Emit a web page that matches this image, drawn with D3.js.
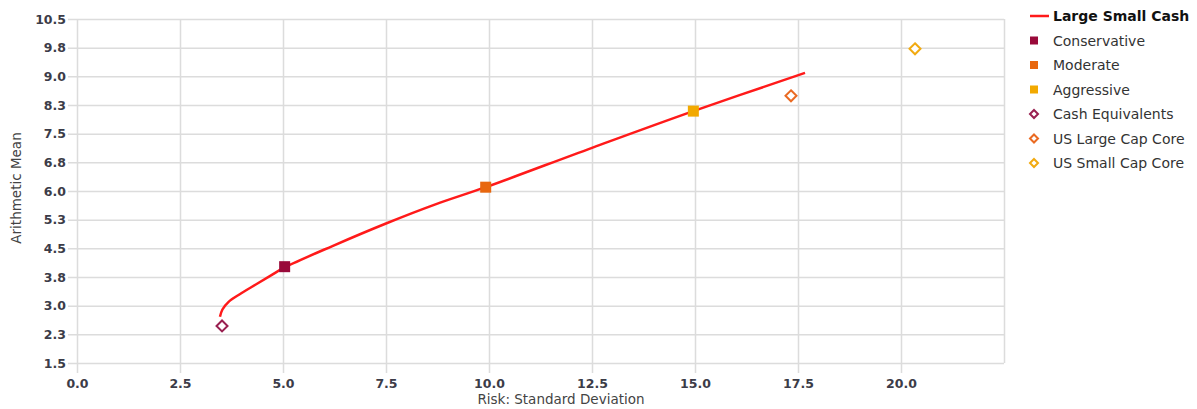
<!DOCTYPE html>
<html>
<head>
<meta charset="utf-8">
<script src="https://cdn.jsdelivr.net/npm/d3@7"></script>
<style>
  html, body { margin: 0; padding: 0; background: #fff; }
  svg { display: block; font-family: "DejaVu Sans", Verdana, sans-serif; }
</style>
</head>
<body>
<svg id="chart" width="1197" height="409"></svg>
<script>
// Efficient frontier (Large / Small / Cash mix)
const frontierRisk   = [3.47, 3.53, 3.68, 3.95, 4.35, 4.72, 5.04, 6.2, 7.5, 8.7, 9.92, 12.5, 14.96, 17.67];
const frontierReturn = [2.71, 2.90, 3.10, 3.30, 3.56, 3.80, 4.00, 4.56, 5.15, 5.65, 6.10, 7.13, 8.09, 9.09];

// Portfolios and asset classes
const pointNames  = ["Conservative", "Moderate", "Aggressive", "Cash Equivalents", "US Large Cap Core", "US Small Cap Core"];
const pointRisk   = [5.04, 9.92, 14.96, 3.52, 17.33, 20.34];
const pointReturn = [4.02, 6.10, 8.09, 2.47, 8.49, 9.72];
const pointShape  = ["square", "square", "square", "diamond", "diamond", "diamond"];
const pointColor  = ["#990a3a", "#e8670e", "#f2a900", "#992050", "#ea6a22", "#f2aa10"];

const xTicks = [0, 2.5, 5, 7.5, 10, 12.5, 15, 17.5, 20];
const xGrid  = [0, 2.5, 5, 7.5, 10, 12.5, 15, 17.5, 20, 22.5];
const yTicks = [1.5, 2.25, 3.0, 3.75, 4.5, 5.25, 6.0, 6.75, 7.5, 8.25, 9.0, 9.75, 10.5];

const seriesName = "Large Small Cash";
const lineColor = "#ff1a1a";

const svg = d3.select("#chart");
const m = { left: 77, right: 1004, top: 19, bottom: 363 };

const x = d3.scaleLinear().domain([0, 22.5]).range([m.left, m.right]);
const y = d3.scaleLinear().domain([1.5, 10.5]).range([m.bottom, m.top]);

const gridColor = "#dcdcdc";
const textColor = "#3c3c48";

// Horizontal grid + y axis
const yAxis = d3.axisLeft(y).tickValues(yTicks)
  .tickSize(9).tickPadding(3)
  .tickFormat(d => (Math.round(d * 10 + 1e-6) / 10).toFixed(1));
const gy = svg.append("g").attr("transform", `translate(${m.left},0)`).call(yAxis);
gy.select(".domain").remove();
gy.selectAll(".tick line").attr("x2", m.right - m.left).attr("x1", -9)
  .attr("stroke", gridColor).attr("stroke-width", 1.5);
gy.selectAll(".tick text").attr("x", -11)
  .attr("fill", textColor).attr("font-size", 12.5).attr("font-weight", "bold")
  .style("font-family", "'DejaVu Sans', Verdana, sans-serif");

// Vertical grid + x axis
const xAxis = d3.axisBottom(x).tickValues(xGrid)
  .tickSize(10).tickPadding(6)
  .tickFormat(d => xTicks.includes(d) ? d.toFixed(1) : "");
const gx = svg.append("g").attr("transform", `translate(0,${m.bottom})`).call(xAxis);
gx.select(".domain").remove();
gx.selectAll(".tick line")
  .attr("y1", d => -(m.bottom - m.top))
  .attr("y2", d => xTicks.includes(d) ? 10 : 0)
  .attr("stroke", gridColor).attr("stroke-width", 1.5);
gx.selectAll(".tick text")
  .attr("fill", textColor).attr("font-size", 12.5).attr("font-weight", "bold")
  .style("font-family", "'DejaVu Sans', Verdana, sans-serif");

// Axis titles
svg.append("text")
  .attr("x", 561).attr("y", 404)
  .attr("text-anchor", "middle").attr("font-size", 13.5).attr("fill", "#444")
  .text("Risk: Standard Deviation");
svg.append("text")
  .attr("transform", `translate(21,188) rotate(-90)`)
  .attr("text-anchor", "middle").attr("font-size", 13.5).attr("fill", "#444")
  .text("Arithmetic Mean");

// Frontier line
const frontier = frontierRisk.map((r, i) => [r, frontierReturn[i]]);
svg.append("path")
  .datum(frontier)
  .attr("fill", "none").attr("stroke", lineColor).attr("stroke-width", 2.5)
  .attr("d", d3.line().x(d => x(d[0])).y(d => y(d[1])).curve(d3.curveCatmullRom.alpha(0.5)));

// Markers
const diamond = s => `M0,${-s}L${s},0L0,${s}L${-s},0Z`;
const pts = pointNames.map((n, i) => ({ n, r: pointRisk[i], v: pointReturn[i], shape: pointShape[i], c: pointColor[i] }));
pts.forEach(p => {
  const g = svg.append("g").attr("transform", `translate(${x(p.r)},${y(p.v)})`);
  if (p.shape === "square") {
    g.append("rect").attr("x", -5.5).attr("y", -5.5).attr("width", 11).attr("height", 11).attr("fill", p.c);
  } else {
    g.append("path").attr("d", diamond(5.5)).attr("fill", "#fff").attr("stroke", p.c).attr("stroke-width", 2);
  }
});

// Legend
const lg = svg.append("g");
const lx = 1030, ly0 = 16, lstep = 24.5;
lg.append("line").attr("x1", lx).attr("x2", lx + 19).attr("y1", ly0).attr("y2", ly0)
  .attr("stroke", lineColor).attr("stroke-width", 2.5);
lg.append("text").attr("x", lx + 23).attr("y", ly0 + 5)
  .attr("font-size", 14).attr("font-weight", "bold").attr("fill", "#111").text(seriesName);
pts.forEach((p, i) => {
  const yy = ly0 + lstep * (i + 1);
  const g = lg.append("g").attr("transform", `translate(${lx + 4},${yy})`);
  if (p.shape === "square") {
    g.append("rect").attr("x", -4).attr("y", -4).attr("width", 8).attr("height", 8).attr("fill", p.c);
  } else {
    g.append("path").attr("d", diamond(4)).attr("fill", "#fff").attr("stroke", p.c).attr("stroke-width", 2);
  }
  lg.append("text").attr("x", lx + 23).attr("y", yy + 5)
    .attr("font-size", 14).attr("fill", "#333").text(p.n);
});
</script>
</body>
</html>
